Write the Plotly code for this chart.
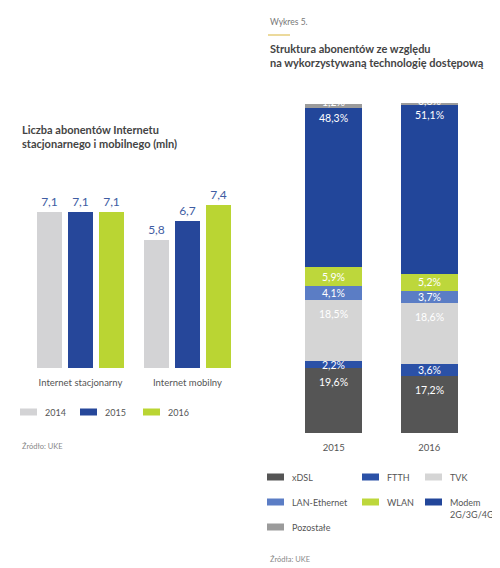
import plotly.graph_objects as go

# Left chart: subscribers (mln)
kategorie = ["Internet stacjonarny", "Internet mobilny"]
lata = ["2014", "2015", "2016"]
abonenci = {
    "2014": [7.1, 5.8],
    "2015": [7.1, 6.7],
    "2016": [7.1, 7.4],
}
kolory_lat = {"2014": "#d3d3d5", "2015": "#26479a", "2016": "#bad533"}

# Right chart: structure by access technology (%)
lata_struktura = ["2015", "2016"]
technologie = ["xDSL", "FTTH", "TVK", "LAN-Ethernet", "WLAN", "Modem<br>2G/3G/4G", "Pozostałe"]
udzialy = {
    "xDSL": [19.6, 17.2],
    "FTTH": [2.2, 3.6],
    "TVK": [18.5, 18.6],
    "LAN-Ethernet": [4.1, 3.7],
    "WLAN": [5.9, 5.2],
    "Modem<br>2G/3G/4G": [48.3, 51.1],
    "Pozostałe": [1.2, 0.6],
}
kolory_tech = {
    "xDSL": "#555555",
    "FTTH": "#2b51a7",
    "TVK": "#d5d5d5",
    "LAN-Ethernet": "#5b7dc5",
    "WLAN": "#bdd73b",
    "Modem<br>2G/3G/4G": "#22469a",
    "Pozostałe": "#9b9b9b",
}

FONT = "Lato"
# the page body has an 8px margin, so the figure is offset by it
OFF = 8
W, H = 500 - OFF, 568 - OFF


def px_x(p):
    return (p - OFF) / W


def px_y(p):
    return 1 - (p - OFF) / H


def fmt(v):
    return f"{v:.1f}".replace(".", ",")


fig = go.Figure()

# grouped bars: one offset group per year
for rok in lata:
    fig.add_trace(go.Bar(
        x=kategorie, y=abonenci[rok], name=rok,
        marker=dict(color=kolory_lat[rok], line=dict(width=0)),
        offsetgroup=rok,
        text=[fmt(v) for v in abonenci[rok]],
        textposition="outside", cliponaxis=False,
        textfont=dict(color="#3f5da3", size=12, family=FONT),
        xaxis="x", yaxis="y", showlegend=False,
        hoverinfo="skip",
    ))

# stacked bars
annotations = []
bazy = [0.0] * len(lata_struktura)
for t in technologie:
    fig.add_trace(go.Bar(
        x=lata_struktura, y=udzialy[t], name=t, width=0.6,
        marker=dict(color=kolory_tech[t], line=dict(width=0)),
        xaxis="x2", yaxis="y2", showlegend=False,
        hoverinfo="skip",
    ))
    for i in range(len(lata_struktura)):
        v = udzialy[t][i]
        top = bazy[i] + v
        if t == technologie[-1]:
            y, shift = top, 2
        elif v > 30:
            y, shift = top, -10
        elif v > 7:
            y, shift = top, -14
        else:
            y, shift = bazy[i] + v / 2, 0
        annotations.append(dict(
            x=i, y=y, xref="x2", yref="y2", text=fmt(v) + "%",
            showarrow=False, yanchor="middle", yshift=shift,
            font=dict(color="white", size=10.5, family=FONT),
        ))
        bazy[i] = top

# hand-made legends (swatch + label), positions in pixels
shapes = [dict(type="line", xref="paper", yref="paper", x0=px_x(268), x1=px_x(290),
               y0=px_y(35), y1=px_y(35), line=dict(color="#d9b53a", width=1))]


def legend_item(x, y, color, label):
    shapes.append(dict(type="rect", xref="paper", yref="paper",
                       x0=px_x(x), x1=px_x(x + 17), y0=px_y(y - 3.5), y1=px_y(y + 3.5),
                       fillcolor=color, line=dict(width=0)))
    two_lines = "<br>" in label
    annotations.append(dict(x=px_x(x + 23), y=px_y(y), xref="paper", yref="paper",
                            xanchor="left", yanchor="top" if two_lines else "middle",
                            yshift=7 if two_lines else 0,
                            align="left", showarrow=False, text=label,
                            font=dict(size=9, color="#555555", family=FONT)))


for rok, lx in zip(lata, [20, 80, 143]):
    legend_item(lx, 412, kolory_lat[rok], rok)

miejsca = [(267, 477), (362, 477), (425, 477),
           (267, 502), (362, 502), (425, 502),
           (267, 527)]
for t, (lx, ly) in zip(technologie, miejsca):
    legend_item(lx, ly, kolory_tech[t], t)

annotations += [
    dict(x=px_x(20), y=px_y(121), xref="paper", yref="paper", xanchor="left", yanchor="top",
         align="left", showarrow=False,
         text="<b>Liczba abonentów Internetu<br>stacjonarnego i mobilnego (mln)</b>",
         font=dict(size=11, color="#444444", family=FONT)),
    dict(x=px_x(20), y=px_y(446), xref="paper", yref="paper", xanchor="left", yanchor="middle",
         showarrow=False, text="Źródło: UKE", font=dict(size=7.5, color="#888888", family=FONT)),
    dict(x=px_x(268), y=px_y(22), xref="paper", yref="paper", xanchor="left", yanchor="middle",
         showarrow=False, text="Wykres 5.", font=dict(size=8.5, color="#777777", family=FONT)),
    dict(x=px_x(268), y=px_y(40), xref="paper", yref="paper", xanchor="left", yanchor="top",
         align="left", showarrow=False,
         text="<b>Struktura abonentów ze względu<br>na wykorzystywaną technologię dostępową</b>",
         font=dict(size=11, color="#444444", family=FONT)),
    dict(x=px_x(268), y=px_y(559), xref="paper", yref="paper", xanchor="left", yanchor="middle",
         showarrow=False, text="Źródła: UKE", font=dict(size=7.5, color="#888888", family=FONT)),
]

fig.update_layout(
    width=W, height=H,
    margin=dict(l=0, r=0, t=0, b=0, autoexpand=False),
    paper_bgcolor="white", plot_bgcolor="white",
    font=dict(family=FONT, color="#555555"),
    barmode="stack", bargap=0.13, bargroupgap=0.2,
    showlegend=False,
    xaxis=dict(type="category", domain=[px_x(27), px_x(241)], anchor="y", automargin=False,
               showgrid=False, showline=False, ticks="", ticklabelstandoff=7,
               tickfont=dict(size=9.5, color="#555555")),
    yaxis=dict(domain=[px_y(368), px_y(181)], range=[0, 8.5], anchor="x", visible=False,
               automargin=False),
    xaxis2=dict(type="category", domain=[px_x(286), px_x(477)], range=[-0.5, 1.5],
                anchor="y2", automargin=False,
                showgrid=False, showline=False, ticks="", ticklabelstandoff=7,
                tickfont=dict(size=9.5, color="#555555")),
    yaxis2=dict(domain=[px_y(433), px_y(103)], range=[0, 100], anchor="x2", visible=False,
                automargin=False),
    annotations=annotations,
    shapes=shapes,
)

fig.write_html("out.html")
